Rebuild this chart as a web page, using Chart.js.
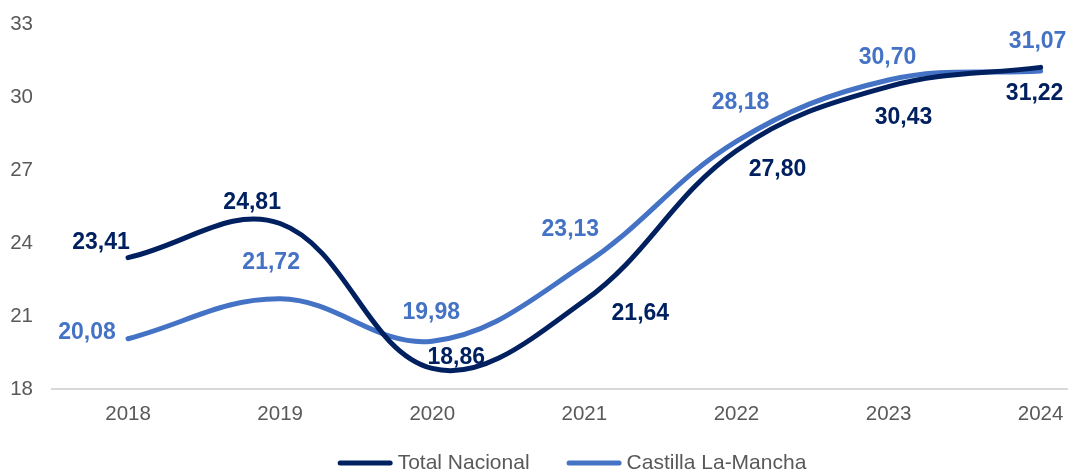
<!DOCTYPE html>
<html>
<head>
<meta charset="utf-8">
<script src="https://cdn.jsdelivr.net/npm/chart.js@4/dist/chart.umd.min.js"></script>
<style>
html,body{margin:0;padding:0;background:#fff;}
#wrap{width:1068px;height:471px;position:relative;}
</style>
</head>
<body>
<div id="wrap"><canvas id="c" width="1068" height="471"></canvas></div>
<script>
const years = [2018, 2019, 2020, 2021, 2022, 2023, 2024];
const totalNacional = [23.41, 24.81, 18.86, 21.64, 27.80, 30.43, 31.22];
const castillaLaMancha = [20.08, 21.72, 19.98, 23.13, 28.18, 30.70, 31.07];
const yTicks = [18, 21, 24, 27, 30, 33];
const seriesNames = ['Total Nacional', 'Castilla La-Mancha'];

// label offsets (px) relative to each point: [dx, dy]
const totalOffsets = [[-27, -15], [-28, -21], [24, -11], [56, 13], [41, 19], [15, 31], [-6, 26]];
const clmOffsets = [[-41, -6], [-9, -36], [-1, -29], [-14, -35], [4, -39], [-1, -22], [-3, -29]];

const navy = '#002060';
const blue = '#4472C4';
const FONT = '"Liberation Sans", Arial, sans-serif';

const labelPlugin = {
  id: 'valueLabels',
  afterDatasetsDraw(chart) {
    const ctx = chart.ctx;
    ctx.save();
    ctx.font = 'bold 23px ' + FONT;
    ctx.textAlign = 'center';
    ctx.textBaseline = 'middle';
    chart.data.datasets.forEach((ds, di) => {
      const meta = chart.getDatasetMeta(di);
      const offs = di === 0 ? totalOffsets : clmOffsets;
      ctx.fillStyle = ds.borderColor;
      meta.data.forEach((pt, i) => {
        const v = ds.data[i].y;
        const txt = v.toFixed(2).replace('.', ',');
        ctx.fillText(txt, pt.x + offs[i][0], pt.y + offs[i][1]);
      });
    });
    ctx.restore();
  }
};

const legendPlugin = {
  id: 'bottomLegend',
  afterDraw(chart) {
    const ctx = chart.ctx;
    ctx.save();
    ctx.font = '21px ' + FONT;
    ctx.textBaseline = 'middle';
    const lineLen = 55, gapText = 5, gapItem = 37, cy = 463;
    const items = chart.data.datasets.map(ds => ({
      label: ds.label, color: ds.borderColor, w: lineLen + gapText + ctx.measureText(ds.label).width
    }));
    const total = items.reduce((s, it) => s + it.w, 0) + gapItem * (items.length - 1);
    let x = 572 - total / 2;
    items.forEach(it => {
      ctx.strokeStyle = it.color;
      ctx.lineWidth = 5;
      ctx.lineCap = 'round';
      ctx.beginPath();
      ctx.moveTo(x + 2.5, cy);
      ctx.lineTo(x + lineLen - 2.5, cy);
      ctx.stroke();
      ctx.fillStyle = '#595959';
      ctx.fillText(it.label, x + lineLen + gapText, cy);
      x += it.w + gapItem;
    });
    ctx.restore();
  }
};

new Chart(document.getElementById('c'), {
  type: 'line',
  data: {
    datasets: [
      {
        label: seriesNames[0],
        data: years.map((y, i) => ({x: y, y: totalNacional[i]})),
        borderColor: navy,
        backgroundColor: navy,
        borderWidth: 5,
        pointRadius: 0,
        tension: 0.38,
        borderCapStyle: 'round'
      },
      {
        label: seriesNames[1],
        data: years.map((y, i) => ({x: y, y: castillaLaMancha[i]})),
        borderColor: blue,
        backgroundColor: blue,
        borderWidth: 5,
        pointRadius: 0,
        tension: 0.38,
        borderCapStyle: 'round'
      }
    ]
  },
  options: {
    responsive: false,
    animation: false,
    layout: { padding: { top: 24, right: 0, left: 0, bottom: 31 } },
    plugins: {
      legend: { display: false },
      tooltip: { enabled: false }
    },
    scales: {
      x: {
        type: 'linear',
        min: 2017.5,
        max: 2024.18,
        afterBuildTicks(scale) { scale.ticks = years.map(v => ({value: v})); },
        afterFit(scale) { scale.paddingLeft = 0; scale.paddingRight = 0; },
        ticks: {
          color: '#595959',
          font: { family: FONT, size: 20.5 },
          padding: 13,
          callback: v => String(v),
          maxRotation: 0
        },
        grid: { display: false, drawTicks: false },
        border: { display: true, color: '#D9D9D9', width: 2 }
      },
      y: {
        type: 'linear',
        min: 18,
        max: 33,
        afterBuildTicks(scale) { scale.ticks = yTicks.map(v => ({value: v})); },
        afterFit(scale) { scale.width = 52; scale.paddingTop = 0; scale.paddingBottom = 0; },
        ticks: {
          color: '#595959',
          font: { family: FONT, size: 20.5 },
          padding: 19
        },
        grid: { display: false, drawTicks: false },
        border: { display: false }
      }
    }
  },
  plugins: [labelPlugin, legendPlugin]
});
</script>
</body>
</html>
